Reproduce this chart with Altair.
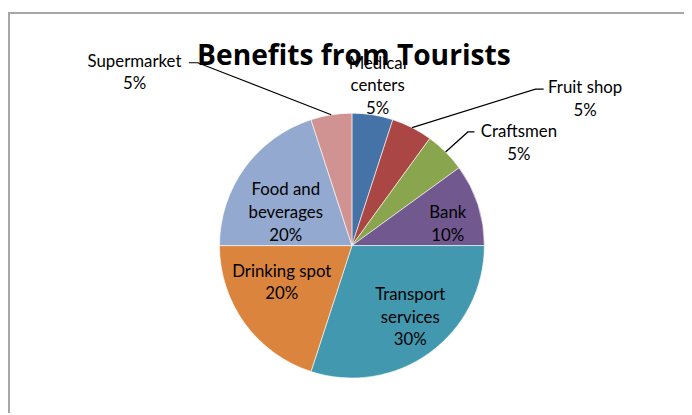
import math
import altair as alt
import pandas as pd

# ---------------- data ----------------
categories = ["Medical centers", "Fruit shop", "Craftsmen", "Bank",
              "Transport services", "Drinking spot", "Food and beverages", "Supermarket"]
values = [5, 5, 5, 10, 30, 20, 20, 5]
label_names = ["Medical\ncenters", "Fruit shop", "Craftsmen", "Bank",
               "Transport\nservices", "Drinking spot", "Food and\nbeverages", "Supermarket"]
colors = ["#4572A7", "#AA4643", "#89A54E", "#71588F",
          "#4198AF", "#DB843D", "#93A9CF", "#D19392"]
title_text = "Benefits from Tourists"

# ---------------- layout (styling only) ----------------
W, H = 684, 407
CX, CY, R = 348, 238, 134
FONT = "Lato"
LH = 23
# label block centre, offset from pie centre
label_offset = {
    "Medical centers": (26, -161),
    "Fruit shop": (236, -147.5),
    "Craftsmen": (169, -103),
    "Bank": (97, -21.5),
    "Transport services": (59, 73),
    "Drinking spot": (-71, 38),
    "Food and beverages": (-67, -33),
    "Supermarket": (-220, -174.5),
}
# leader lines: (start, elbow) offsets from pie centre; end at slice edge
leader_pts = {
    "Supermarket": [(-165, -185), (-156, -185)],
    "Fruit shop": [(194, -158.3), (185.7, -158.3)],
    "Craftsmen": [(124, -115), (117.3, -115)],
}

total = sum(values)
slices = pd.DataFrame({
    "category": categories,
    "value": values,
    "idx": list(range(len(categories))),
})

# label table (y of the first line so that the block is centred)
rows = []
for name, cat, v in zip(label_names, categories, values):
    dx, dy = label_offset[cat]
    txt = f"{name}\n{v / total:.0%}"
    n = txt.count("\n") + 1
    rows.append({"category": cat, "text": txt,
                 "lx": CX + dx, "ly": CY + dy - (n - 1) * LH / 2})
labels = pd.DataFrame(rows)

# leader-line table
cum = 0
mid = {}
for cat, v in zip(categories, values):
    mid[cat] = (cum + v / 2) / total * 2 * math.pi
    cum += v
lrows = []
for cat, pts in leader_pts.items():
    for k, (dx, dy) in enumerate(pts):
        lrows.append({"category": cat, "o": k, "px": CX + dx, "py": CY + dy})
    a = mid[cat]
    lrows.append({"category": cat, "o": 2,
                  "px": CX + R * math.sin(a), "py": CY - R * math.cos(a)})
leaders = pd.DataFrame(lrows)

# ---------------- chart ----------------
border_left = alt.Chart(slices).mark_rule(color="#a6a6a6", strokeWidth=1.5).encode(
    x=alt.value(0.75), y=alt.value(2.75), y2=alt.value(H))
border_top = alt.Chart(slices).mark_rule(color="#a6a6a6", strokeWidth=1.5).encode(
    x=alt.value(0), x2=alt.value(W), y=alt.value(2.75))

arcs = alt.Chart(slices).mark_arc(outerRadius=R, stroke="white", strokeWidth=0.6).encode(
    theta=alt.Theta("value:Q", stack=True),
    order=alt.Order("idx:Q"),
    color=alt.Color("category:N", scale=alt.Scale(domain=categories, range=colors), legend=None),
    x=alt.value(CX), y=alt.value(CY),
)

lead = alt.Chart(leaders).mark_line(color="black", strokeWidth=1.2).encode(
    x=alt.X("px:Q", scale=None),
    y=alt.Y("py:Q", scale=None),
    detail="category:N",
    order="o:Q",
)

title = alt.Chart(pd.DataFrame({"t": [title_text]})).mark_text(
    font="Open Sans", fontSize=28.5, fontWeight="bold", color="black",
    align="center", baseline="alphabetic",
).encode(x=alt.value(350), y=alt.value(55), text="t:N")

text = alt.Chart(labels).mark_text(
    font=FONT, fontSize=17, color="black", align="center", baseline="middle",
    lineBreak="\n", lineHeight=LH,
).encode(
    x=alt.X("lx:Q", scale=None),
    y=alt.Y("ly:Q", scale=None),
    text="text:N",
)

chart = alt.layer(border_left, border_top, arcs, lead, title, text).properties(
    width=W, height=H,
    autosize=alt.AutoSizeParams(type="none"),
    padding=0,
).configure_view(stroke=None)

chart.save("out.html", embed_options={"renderer": "svg", "actions": False})
